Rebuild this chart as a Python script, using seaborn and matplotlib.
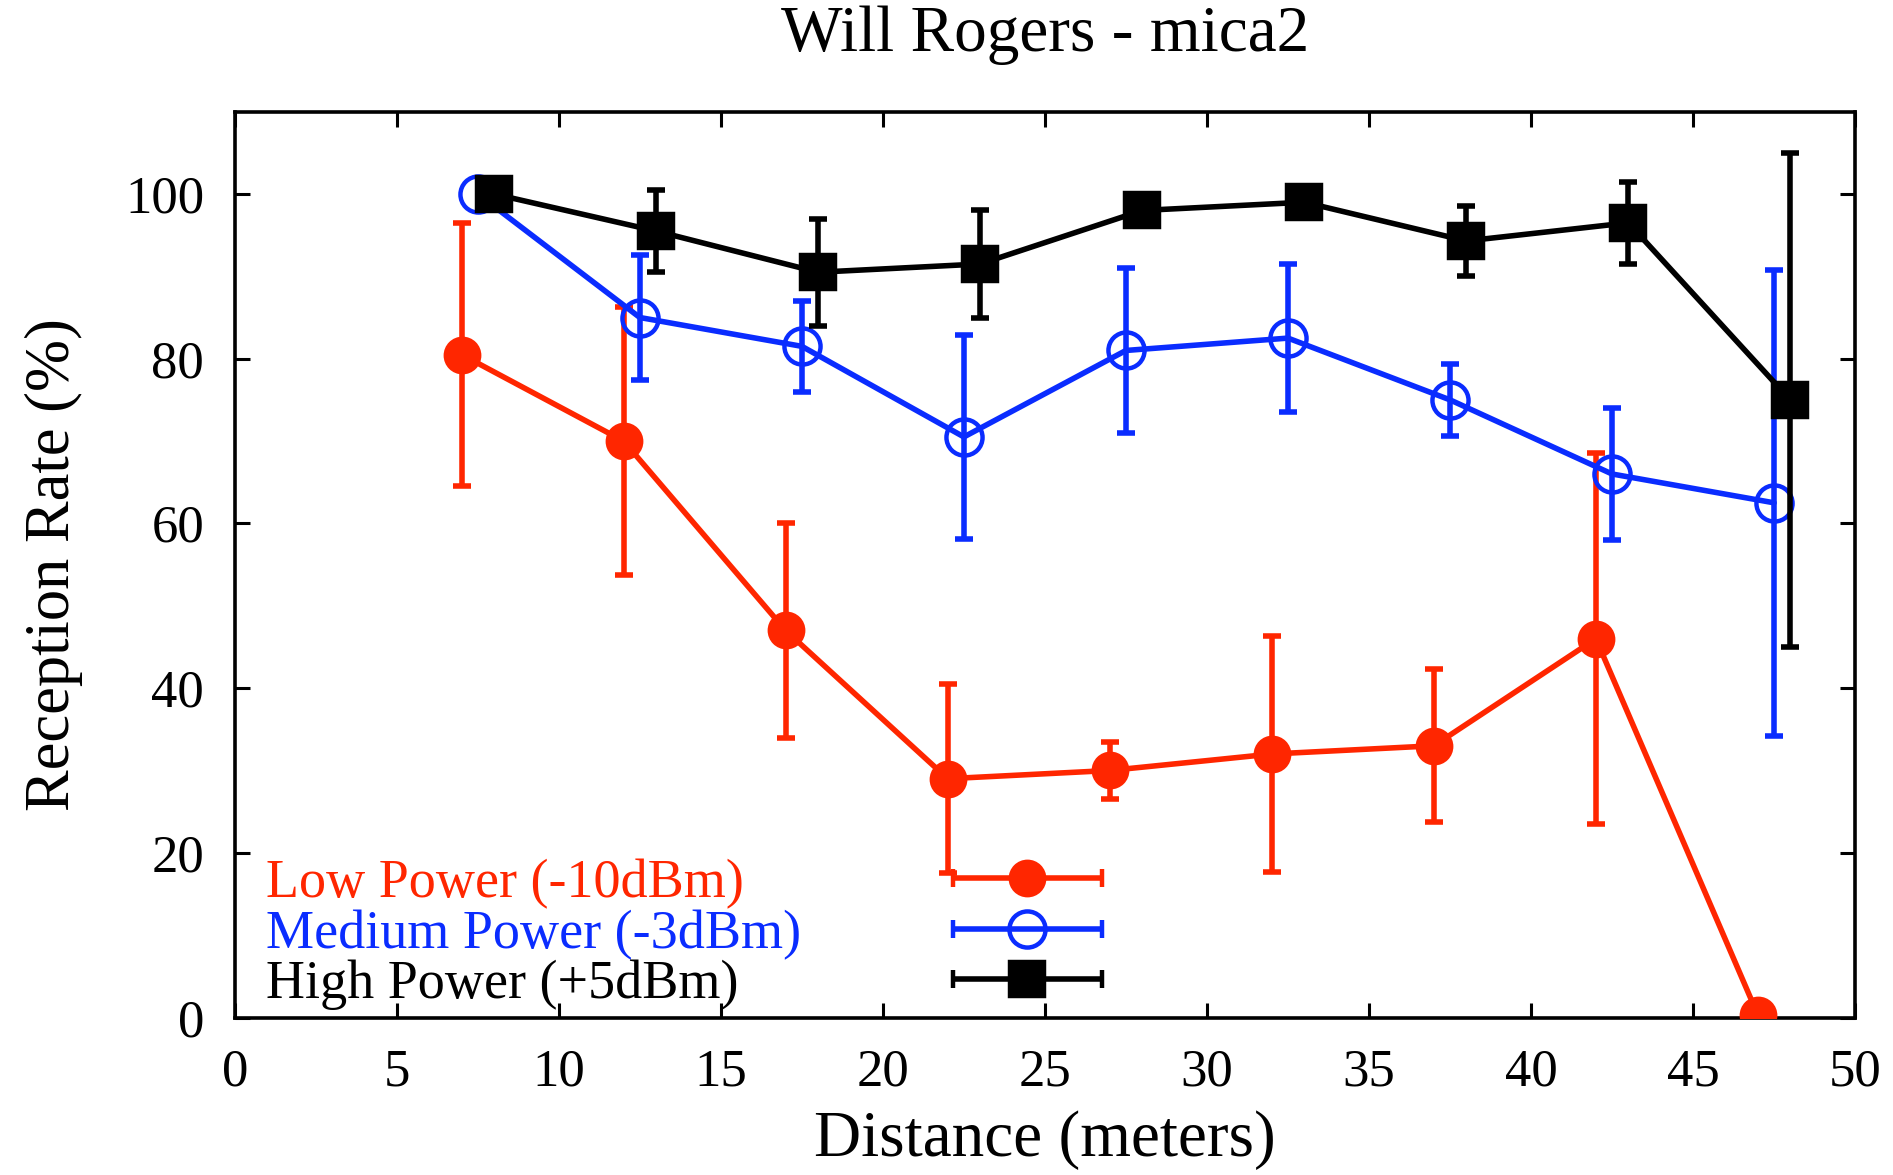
import matplotlib
matplotlib.use("Agg")
import matplotlib.pyplot as plt
import numpy as np
import pandas as pd
import seaborn as sns
from matplotlib.legend_handler import HandlerErrorbar

# distances (m) and reception rate (%) with error half-widths
dist_low = [7, 12, 17, 22, 27, 32, 37, 42, 47]
rate_low = [80.5, 70, 47, 29, 30, 32, 33, 46, 0.3]
err_low = [16, 16.3, 13, 11.5, 3.5, 14.3, 9.3, 22.5, 0]

dist_med = [7.5, 12.5, 17.5, 22.5, 27.5, 32.5, 37.5, 42.5, 47.5]
rate_med = [100, 85, 81.5, 70.5, 81, 82.5, 75, 66, 62.5]
err_med = [0, 7.6, 5.5, 12.4, 10, 9, 4.4, 8, 28.3]

dist_high = [8, 13, 18, 23, 28, 33, 38, 43, 48]
rate_high = [100, 95.5, 90.5, 91.5, 98, 99, 94.3, 96.5, 75]
err_high = [0, 5, 6.5, 6.5, 0, 0, 4.3, 5, 30]

labels = ["Low Power (-10dBm)", "Medium Power (-3dBm)", "High Power (+5dBm)"]
colors = ["#ff2600", "#0a2cff", "#000000"]
markers = ["o", "o", "s"]
faces = ["#ff2600", "none", "#000000"]
msizes = [24, 26, 25]

series = [
    (dist_low, rate_low, err_low),
    (dist_med, rate_med, err_med),
    (dist_high, rate_high, err_high),
]

sns.set_style("ticks")
plt.rcParams["font.family"] = ["Liberation Serif", "DejaVu Serif"]
plt.rcParams["axes.unicode_minus"] = False
plt.rcParams["text.color"] = "black"
plt.rcParams["axes.labelcolor"] = "black"

fig = plt.figure(figsize=(18.93, 11.75), dpi=100)
ax = fig.add_axes([0.124, 0.134, 0.856, 0.771])

LW = 4.0
handles = []
for i, ((x, y, e), lab, col, mk, fc, ms) in enumerate(
        zip(series, labels, colors, markers, faces, msizes)):
    df = pd.DataFrame({"x": x, "y": y})
    z = 3 + i
    sns.lineplot(data=df, x="x", y="y", ax=ax, color=col, linewidth=LW,
                 marker=mk, markersize=ms, markerfacecolor=fc,
                 markeredgecolor=col, markeredgewidth=3.2, zorder=z + 0.5)
    yerr = np.array(e, dtype=float)
    mask = yerr > 0
    ax.errorbar(np.array(x)[mask], np.array(y)[mask], yerr=yerr[mask], fmt="none",
                ecolor=col, elinewidth=LW, capsize=6.5, capthick=LW, zorder=z)
    h = ax.errorbar([np.nan], [np.nan], xerr=[1], fmt=mk, color=col, ecolor=col,
                    markersize=ms, markerfacecolor=fc, markeredgecolor=col,
                    markeredgewidth=3.2, elinewidth=LW, capsize=6.5, capthick=LW,
                    label=lab)
    handles.append(h)

ax.set_xlim(0, 50)
ax.set_ylim(0, 110)
ax.set_xticks(np.arange(0, 51, 5))
ax.set_yticks(np.arange(0, 101, 20))
ax.tick_params(axis="both", which="major", direction="in", length=11, width=2.2,
               top=True, right=True, labelsize=38, colors="black")
ax.tick_params(axis="x", pad=22)
ax.tick_params(axis="y", pad=22)
for sp in ax.spines.values():
    sp.set_linewidth(2.6)
    sp.set_color("black")

ax.set_xlabel("Distance (meters)", fontsize=47, labelpad=10)
ax.set_ylabel("Reception Rate (%)", fontsize=45, labelpad=30)
ax.set_title("Will Rogers - mica2", fontsize=47, pad=44)

leg = ax.legend(handles=handles, labels=labels, loc="lower left",
                bbox_to_anchor=(0.016, 0.002), markerfirst=False, frameon=False,
                fontsize=39, numpoints=1, handlelength=2.75, handletextpad=2.8,
                labelspacing=0.0, borderaxespad=0.0, borderpad=0.1,
                handler_map={type(handles[0]): HandlerErrorbar(xerr_size=1.37)})
for txt, col in zip(leg.get_texts(), colors):
    txt.set_color(col)

# left-align legend labels while keeping the samples in one column
fig.canvas.draw()
renderer = fig.canvas.get_renderer()
rows = [item for colbox in leg._legend_handle_box.get_children()
        for item in colbox.get_children()]
widths = [t.get_window_extent(renderer).width for t in leg.get_texts()]
wmax = max(widths)
for item, w in zip(rows, widths):
    item.sep = item.sep + (wmax - w) * 72.0 / fig.dpi

fig.savefig("out.png", dpi=100)
